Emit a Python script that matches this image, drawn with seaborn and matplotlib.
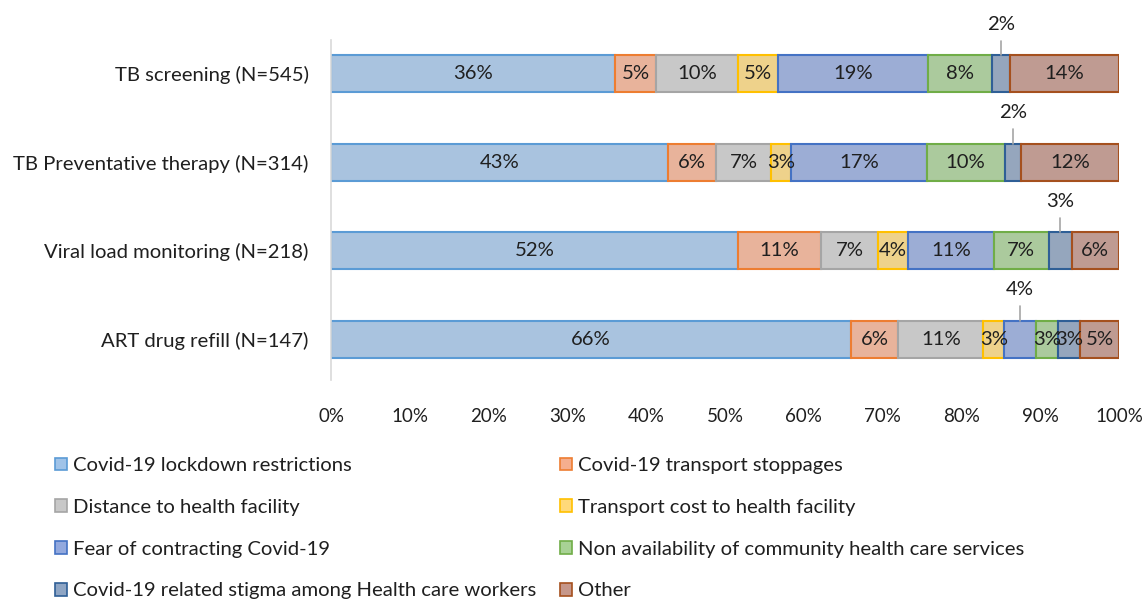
import numpy as np
import pandas as pd
import seaborn as sns
import matplotlib.pyplot as plt
from matplotlib.patches import Patch

# data (percent of respondents)
services = ['TB screening (N=545)', 'TB Preventative therapy (N=314)',
            'Viral load monitoring (N=218)', 'ART drug refill (N=147)']
reasons = ['Covid-19 lockdown restrictions', 'Covid-19 transport stoppages',
           'Distance to health facility', 'Transport cost to health facility',
           'Fear of contracting Covid-19', 'Non availability of community health care services',
           'Covid-19 related stigma among Health care workers', 'Other']
lockdown = [36.1, 42.8, 51.6, 66.0]
transport_stop = [5.2, 6.1, 10.6, 6.0]
distance = [10.4, 6.9, 7.2, 10.8]
transport_cost = [5.0, 2.6, 3.8, 2.6]
fear = [19.1, 17.2, 10.9, 4.1]
non_avail = [8.1, 9.9, 7.0, 2.8]
stigma = [2.3, 2.1, 2.9, 2.8]
other = [13.8, 12.4, 6.0, 4.9]
series = [lockdown, transport_stop, distance, transport_cost, fear, non_avail, stigma, other]

# labels drawn above the bar with a leader line: (service index, reason index)
callouts = [(0, 6), (1, 6), (2, 6), (3, 4)]

fills = ['#A0C3E8', '#F5AE8E', '#C8C8C8', '#FFD97A', '#93A9DE', '#A8D295', '#8EA5C4', '#C6978A']
edges = ['#5B9BD5', '#ED7D31', '#A5A5A5', '#FFC000', '#4472C4', '#70AD47', '#2F5F96', '#A5501E']

sns.set_style('white')
plt.rcParams['font.family'] = ['Lato', 'DejaVu Sans']
fs = 14.6

fig = plt.figure(figsize=(11.43, 6), dpi=100)
ax = fig.add_axes([0.2896, 0.3667, 0.6894, 0.5667])

bar_w = 0.42
left = np.zeros(len(services))
for i, vals in enumerate(series):
    sns.barplot(x=vals, y=services, orient='y', left=left, color=fills[i],
                edgecolor=edges[i], linewidth=1.5, width=bar_w, errorbar=None, ax=ax)
    for j, v in enumerate(vals):
        xc = left[j] + v / 2
        txt = f'{round(v):d}%'
        if (j, i) in callouts:
            top = j - bar_w / 2
            ax.plot([xc, xc], [top, top - 0.16], color='#A6A6A6', lw=1.2)
            ax.text(xc, top - 0.35, txt, ha='center', va='center', fontsize=fs, color='#1f1f1f')
        else:
            ax.text(xc, j, txt, ha='center', va='center', fontsize=fs, color='#1f1f1f')
    left = left + np.array(vals)

ax.set_xlim(0, 100)
ax.set_ylim(3.46, -0.38)
ax.set_xticks(np.arange(0, 101, 10))
ax.set_xticklabels([f'{t}%' for t in range(0, 101, 10)])
ax.tick_params(axis='y', length=0, labelsize=fs, colors='#1f1f1f', pad=16)
ax.tick_params(axis='x', length=0, labelsize=13.5, colors='#1f1f1f', pad=20)
ax.set_xlabel('')
ax.set_ylabel('')
for s in ['top', 'right', 'bottom']:
    ax.spines[s].set_visible(False)
ax.spines['left'].set_color('#D9D9D9')
ax.spines['left'].set_linewidth(1.2)

# legend laid out row by row in two columns
handles = [Patch(facecolor=fills[i], edgecolor=edges[i], linewidth=1.2, label=reasons[i])
           for i in range(len(reasons))]
order = [0, 2, 4, 6, 1, 3, 5, 7]
leg = fig.legend([handles[k] for k in order], [reasons[k] for k in order],
                 ncol=2, loc='upper left', bbox_to_anchor=(0.048, 0.238),
                 frameon=False, fontsize=fs, handlelength=0.6, handleheight=0.6,
                 handletextpad=0.3, labelspacing=1.22, columnspacing=1.15,
                 borderaxespad=0, borderpad=0)
for t in leg.get_texts():
    t.set_color('#1f1f1f')

fig.savefig('out.png', dpi=100)
